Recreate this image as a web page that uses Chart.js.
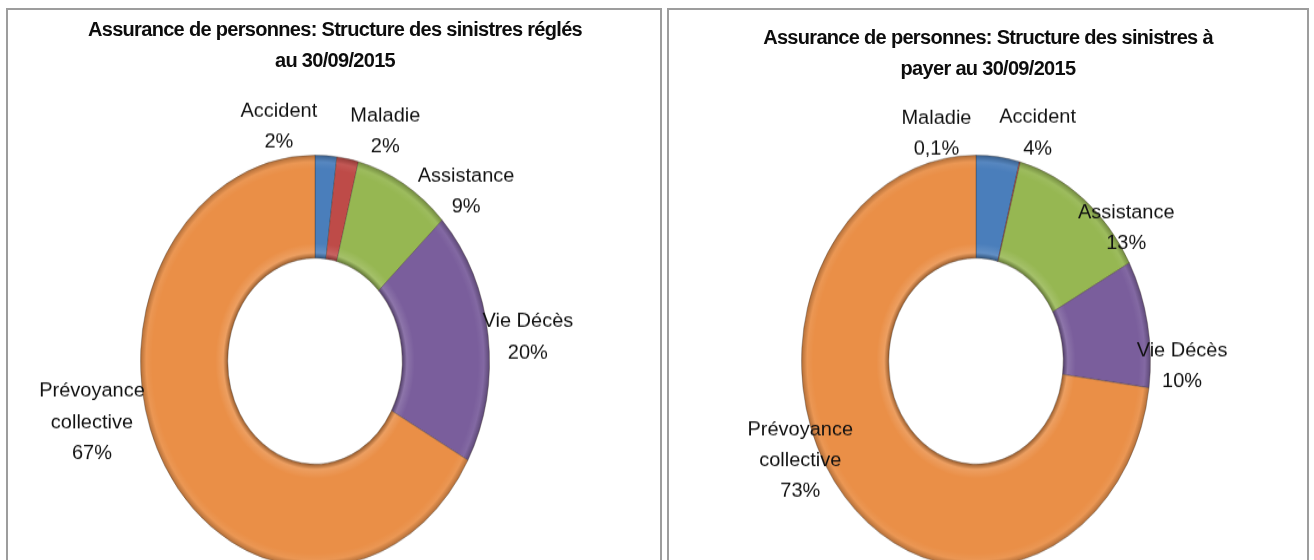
<!DOCTYPE html>
<html>
<head>
<meta charset="utf-8">
<script src="https://cdn.jsdelivr.net/npm/chart.js@4.4.1/dist/chart.umd.min.js"></script>
<style>
    body { margin: 0; width: 1314px; height: 560px; overflow: hidden; background: #fff; position: relative; }
    .panel { position: absolute; top: 8px; height: 620px; box-sizing: border-box; border: 2px solid #9d9d9d; }
    .title { position: absolute; width: 600px; text-align: center; font: bold 20px "Liberation Sans", Arial, sans-serif;
             line-height: 31px; letter-spacing: -0.69px; color: #0d0d0d; z-index: 2; }
    .wrap { position: absolute; top: 0; height: 482px; transform: scaleY(1.18); transform-origin: 0 0; z-index: 1; }
</style>
</head>
<body>
<div class="panel" style="left:6px;width:656px"></div>
<div class="panel" style="left:667px;width:642px"></div>

<div class="title" style="left:35px;top:14px">Assurance de personnes: Structure des sinistres réglés<br>au 30/09/2015</div>
<div class="title" style="left:688px;top:22px">Assurance de personnes: Structure des sinistres à<br>payer au 30/09/2015</div>

<div class="wrap" style="left:0;width:660px"><canvas id="regles"></canvas></div>
<div class="wrap" style="left:660px;width:654px"><canvas id="apayer"></canvas></div>

<script>
    // Data
    const categories = ['Accident', 'Maladie', 'Assistance', 'Vie Décès', ['Prévoyance', 'collective']];
    const sinistresRegles = [2, 2, 9, 20, 67];
    const sinistresAPayer = [4, 0.1, 13, 10, 73];
    const sliceColors = ['#4a7ebb', '#be4b48', '#96b752', '#7a5e9c', '#ea8f47'];

    // vertical stretch of the picture (rings are ellipses)
    const STRETCH = 1.18;

    // label nudges (page px) relative to the default spot outside each slice
    const shiftRegles = [[-49, 5], [32, 6], [47, 37], [10, 5], [-47, -63]];
    const shiftAPayer = [[36, 10], [-91, 5], [24, 55], [5, 48], [-22, -61]];

    function shade(hex, f) {
        var n = parseInt(hex.slice(1), 16);
        var r = (n >> 16) & 255, g = (n >> 8) & 255, b = n & 255;
        var m = function (c) { return Math.max(0, Math.min(255, Math.round(f > 1 ? c + (255 - c) * (f - 1) : c * f))); };
        return 'rgb(' + m(r) + ',' + m(g) + ',' + m(b) + ')';
    }

    // soft bevel: radial gradient across the ring
    function bevel(context) {
        var chart = context.chart;
        var base = sliceColors[context.dataIndex];
        var area = chart.chartArea;
        if (!area) return base;
        var cx = (area.left + area.right) / 2, cy = (area.top + area.bottom) / 2;
        var r = Math.min(area.width, area.height) / 2;
        var g = chart.ctx.createRadialGradient(cx, cy, r * 0.5, cx, cy, r);
        g.addColorStop(0, shade(base, 0.68));
        g.addColorStop(0.05, shade(base, 1.14));
        g.addColorStop(0.14, base);
        g.addColorStop(0.86, base);
        g.addColorStop(0.93, shade(base, 1.07));
        g.addColorStop(1, shade(base, 0.74));
        return g;
    }

    function formatPct(v) {
        return String(v).replace('.', ',') + '%';
    }

    // Excel-like outside labels, drawn unstretched
    var sliceLabels = {
        id: 'sliceLabels',
        afterDatasetsDraw: function (chart, args, opts) {
            var ctx = chart.ctx;
            var meta = chart.getDatasetMeta(0);
            var values = chart.data.datasets[0].data;
            ctx.save();
            ctx.font = '20px "Liberation Sans", Arial, sans-serif';
            ctx.fillStyle = '#111111';
            ctx.textAlign = 'center';
            ctx.textBaseline = 'alphabetic';
            meta.data.forEach(function (arc, i) {
                var mid = (arc.startAngle + arc.endAngle) / 2;
                var rr = arc.outerRadius + 30;
                var x = arc.x + rr * Math.cos(mid) + opts.shift[i][0];
                var y = arc.y + rr * Math.sin(mid) + opts.shift[i][1] / STRETCH;
                var name = chart.data.labels[i];
                var lines = (Array.isArray(name) ? name : [name]).concat([formatPct(values[i])]);
                ctx.save();
                ctx.translate(x, y);
                ctx.scale(1, 1 / STRETCH);
                lines.forEach(function (line, k) {
                    ctx.fillText(line, 0, (k - (lines.length - 1) / 2) * 31 + 7);
                });
                ctx.restore();
            });
            ctx.restore();
        }
    };

    function makeDoughnut(id, values, shift, pad) {
        var ctx = document.getElementById(id).getContext('2d');
        return new Chart(ctx, {
            type: 'doughnut',
            data: {
                labels: categories,
                datasets: [{
                    data: values,
                    backgroundColor: bevel,
                    borderColor: 'rgba(60, 50, 40, 0.35)',
                    borderWidth: 1
                }]
            },
            options: {
                responsive: true,
                maintainAspectRatio: false,
                animation: false,
                cutout: '50%',
                layout: { padding: pad },
                plugins: {
                    legend: { display: false },
                    tooltip: { enabled: false },
                    sliceLabels: { shift: shift }
                }
            },
            plugins: [sliceLabels]
        });
    }

    makeDoughnut('regles', sinistresRegles, shiftRegles, { top: 131, bottom: 1, left: 140, right: 170 });
    makeDoughnut('apayer', sinistresAPayer, shiftAPayer, { top: 131, bottom: 1, left: 141, right: 163 });
</script>
</body>
</html>
